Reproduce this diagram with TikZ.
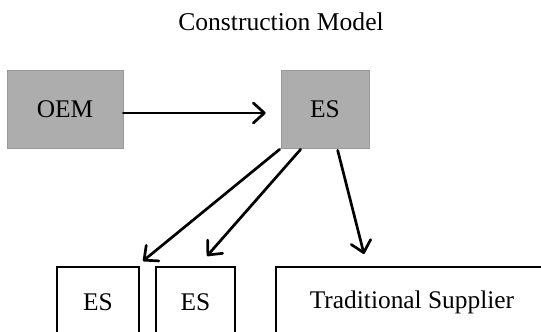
\documentclass[tikz,border=0pt]{standalone}
\usepackage{fontspec}
\setmainfont{Liberation Serif}
\usetikzlibrary{arrows.meta,calc}

\tikzset{
  firm/.style={draw=black, line width=1pt, inner sep=0pt, font=\fontsize{12.7}{15}\selectfont},
  shaded/.style={fill=black!32, draw=black!40, line width=0.3pt, inner sep=0pt,
                 font=\fontsize{12.7}{15}\selectfont},
  flow/.style={line width=1.35pt, line cap=round,
               -{Straight Barb[length=5.5pt,width=10pt,line width=1.35pt,round]}}
}

\begin{document}
\begin{tikzpicture}[x=0.5pt,y=-0.5pt]
  % page frame: 541 x 332 units, contents cut at its edges
  \useasboundingbox (0,0) rectangle (541,332);
  \clip (0,0) rectangle (541,332);

  \node[font=\fontsize{12.8}{15}\selectfont] (title) at (281,22) {Construction Model};

  % top tier
  \node[shaded, minimum width=58pt, minimum height=39pt] (oem) at (65,109) {OEM};
  \node[shaded, minimum width=44pt, minimum height=39pt] (es)  at (325,109) {ES};

  % lower tier (boxes run past the bottom and right edges)
  \node[firm, minimum width=41pt,  minimum height=35pt] (esa) at (98,302)    {ES};
  \node[firm, minimum width=39.5pt, minimum height=35pt] (esb) at (195.5,302) {ES};
  \node[firm, minimum width=180pt, minimum height=35pt] (trad) at (456,302)
       {Traditional Supplier\kern44pt};

  % connectors
  \draw[flow] ($(oem.east)+(0,4)$) -- ($(es.west)+(-15,4)$);
  \draw[flow] ($(es.south west)+(-1,1)$)  -- ($(esa.north east)+(3,-5)$);
  \draw[flow] ($(es.south west)+(20,1)$)  -- ($(esb.north)+(11.5,-10)$);
  \draw[flow] ($(es.south west)+(57,2)$)  -- ($(trad.north west)+(89,-12)$);
\end{tikzpicture}
\end{document}
